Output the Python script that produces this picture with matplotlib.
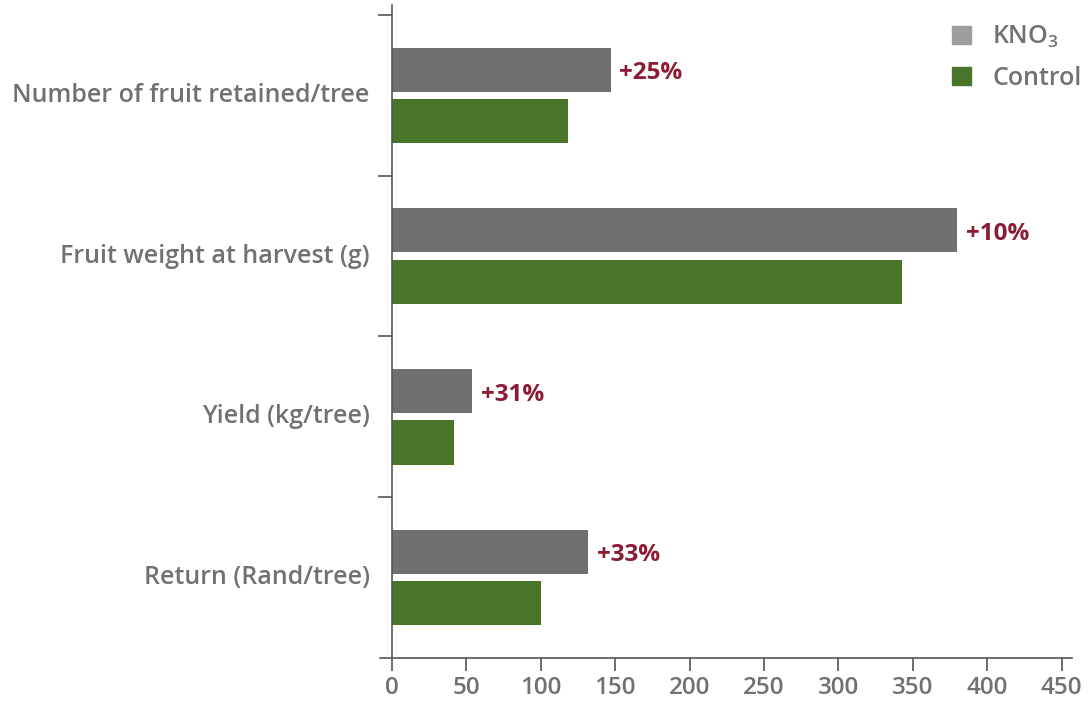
import matplotlib
matplotlib.use("Agg")
import matplotlib.pyplot as plt
from matplotlib.lines import Line2D
from matplotlib.patches import Patch
import numpy as np

categories = ["Number of fruit retained/tree", "Fruit weight at harvest (g)",
              "Yield (kg/tree)", "Return (Rand/tree)"]
kno3 = [147, 380, 54, 132]
control = [118, 343, 41.5, 100]
pct_labels = ["+25%", "+10%", "+31%", "+33%"]
xticks = [0, 50, 100, 150, 200, 250, 300, 350, 400, 450]

plt.rcParams['font.family'] = ['Open Sans', 'DejaVu Sans']
plt.rcParams['mathtext.fontset'] = 'custom'
plt.rcParams['mathtext.rm'] = 'Open Sans:semibold'
plt.rcParams['mathtext.it'] = 'Open Sans:semibold'
plt.rcParams['mathtext.bf'] = 'Open Sans:semibold'

TXT = '#717171'
C_K = '#6f706f'
C_C = '#48752a'
C_P = '#8c1c33'
AX = '#555555'

fig = plt.figure(figsize=(10.9, 7.03), dpi=100)
W, H = 1090, 703
left_px, right_px, top_px, bot_px = 392, 1072, 5, 658
ax = fig.add_axes([left_px / W, 1 - bot_px / H, (right_px - left_px) / W, (bot_px - top_px) / H])

y = np.arange(len(categories))
h = 0.275
off = 0.16
ax.barh(y - off, kno3, height=h, color=C_K, zorder=2)
ax.barh(y + off, control, height=h, color=C_C, zorder=2)

for yi, v, t in zip(y, kno3, pct_labels):
    ax.annotate(t, (v, yi - off), xytext=(6, -2.5), textcoords='offset points',
                ha='left', va='center', color=C_P, fontsize=17.5, fontweight='bold')

ax.set_xlim(0, 457)
ax.set_ylim(3.5, -0.562)

ax.set_xticks(xticks)
ax.set_xticklabels([str(t) for t in xticks], fontsize=17.5, color=TXT, fontweight='semibold')
ax.set_yticks(y)
ax.set_yticklabels(categories, fontsize=18, color=TXT, fontweight='semibold')
for lbl in ax.get_yticklabels():
    lbl.set_verticalalignment('center')
ax.tick_params(axis='y', length=0, pad=16)
ax.set_yticks([-0.5, 0.5, 1.5, 2.5], minor=True)
ax.tick_params(axis='y', which='minor', length=10, width=1.2, color=AX, direction='out')
ax.tick_params(axis='x', length=9, width=1.2, color=AX, direction='out', pad=4)

for s in ['top', 'right']:
    ax.spines[s].set_visible(False)
for s in ['left', 'bottom']:
    ax.spines[s].set_color(AX)
    ax.spines[s].set_linewidth(1.2)

# extend x-axis line slightly left of y-axis
fig.add_artist(Line2D([380 / W, left_px / W], [1 - bot_px / H, 1 - bot_px / H],
                      color=AX, lw=1.2))

handles = [Patch(color='#9d9d9f'), Patch(color=C_C)]
leg = fig.legend(handles, ['KNO$_3$', 'Control'], loc='upper right',
                 bbox_to_anchor=(1104 / W, 1 - 1 / H), frameon=False,
                 fontsize=18, handlelength=0.75, handleheight=0.75,
                 handletextpad=0.85, labelspacing=0.65, labelcolor=TXT)
for t in leg.get_texts():
    t.set_fontweight('semibold')

fig.savefig('out.png', dpi=100)
